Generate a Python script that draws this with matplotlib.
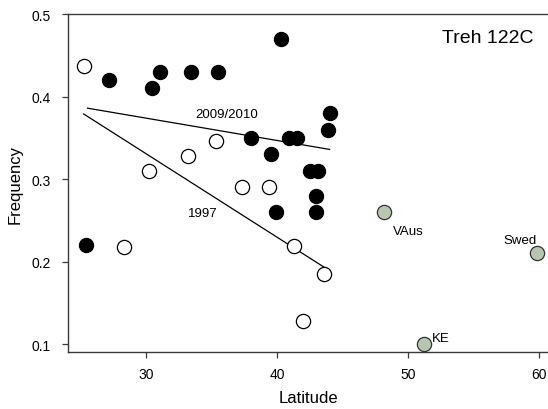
import matplotlib.pyplot as plt

plt.rcParams['font.family'] = ['Liberation Sans', 'DejaVu Sans']

# 2009/2010 samples (filled)
lat_new = [25.4, 27.1, 30.4, 31.0, 33.4, 35.5, 38.0, 39.5, 39.9, 40.3,
           40.9, 41.5, 42.5, 43.1, 43.0, 43.0, 43.9, 44.0]
freq_new = [0.22, 0.42, 0.41, 0.43, 0.43, 0.43, 0.35, 0.33, 0.26, 0.47,
            0.35, 0.35, 0.31, 0.31, 0.28, 0.26, 0.36, 0.38]

# 1997 samples (open)
lat_old = [25.2, 28.3, 30.2, 33.2, 35.3, 37.3, 39.4, 41.3, 42.0, 43.6]
freq_old = [0.437, 0.218, 0.31, 0.328, 0.346, 0.291, 0.291, 0.219, 0.128, 0.185]

# other populations (grey)
lat_other = [48.2, 51.2, 59.85]
freq_other = [0.26, 0.10, 0.21]
names_other = ['VAus', 'KE', 'Swed']

# regression lines (end points)
fit_new_x, fit_new_y = [25.5, 44.0], [0.386, 0.336]
fit_old_x, fit_old_y = [25.2, 43.6], [0.379, 0.193]

fig = plt.figure(figsize=(5.48, 4.10), dpi=100)
ax = fig.add_axes([0.124, 0.139, 0.876, 0.824])

ax.plot(fit_new_x, fit_new_y, color='black', lw=0.9, zorder=1)
ax.plot(fit_old_x, fit_old_y, color='black', lw=0.9, zorder=1)

ax.scatter(lat_new, freq_new, s=105, c='black', edgecolors='black', lw=0.8, zorder=3)
ax.scatter(lat_old, freq_old, s=105, c='white', edgecolors='black', lw=0.9, zorder=3)
ax.scatter(lat_other, freq_other, s=105, c='#b7c6ae', edgecolors='#333333', lw=0.9, zorder=3)

ax.text(50.0, 0.237, 'VAus', fontsize=9.5, ha='center', va='center')
ax.text(52.5, 0.107, 'KE', fontsize=9.5, ha='center', va='center')
ax.text(58.6, 0.226, 'Swed', fontsize=9.5, ha='center', va='center')
ax.text(36.1, 0.379, '2009/2010', fontsize=9.5, ha='center', va='center')
ax.text(34.3, 0.259, '1997', fontsize=9.5, ha='center', va='center')
ax.text(56.1, 0.472, 'Treh 122C', fontsize=14, ha='center', va='center')

ax.set_xlim(24, 60.7)
ax.set_ylim(0.0903, 0.5)
ax.set_xticks([30, 40, 50, 60])
ax.set_yticks([0.1, 0.2, 0.3, 0.4, 0.5])
ax.set_yticklabels(['0.1', '0.2', '0.3', '0.4', '0.5'])

ax.spines['right'].set_visible(False)
for s in ['left', 'bottom', 'top']:
    ax.spines[s].set_color('#3a3a3a')
    ax.spines[s].set_linewidth(1.0)
ax.tick_params(direction='out', length=4.5, width=0.9, color='#3a3a3a', labelsize=10)
ax.tick_params(axis='y', pad=8)
ax.tick_params(axis='x', pad=6)

ax.set_xlabel('Latitude', fontsize=12, labelpad=7)
ax.set_ylabel('Frequency', fontsize=12, labelpad=6)

fig.savefig('out.png', dpi=100)
